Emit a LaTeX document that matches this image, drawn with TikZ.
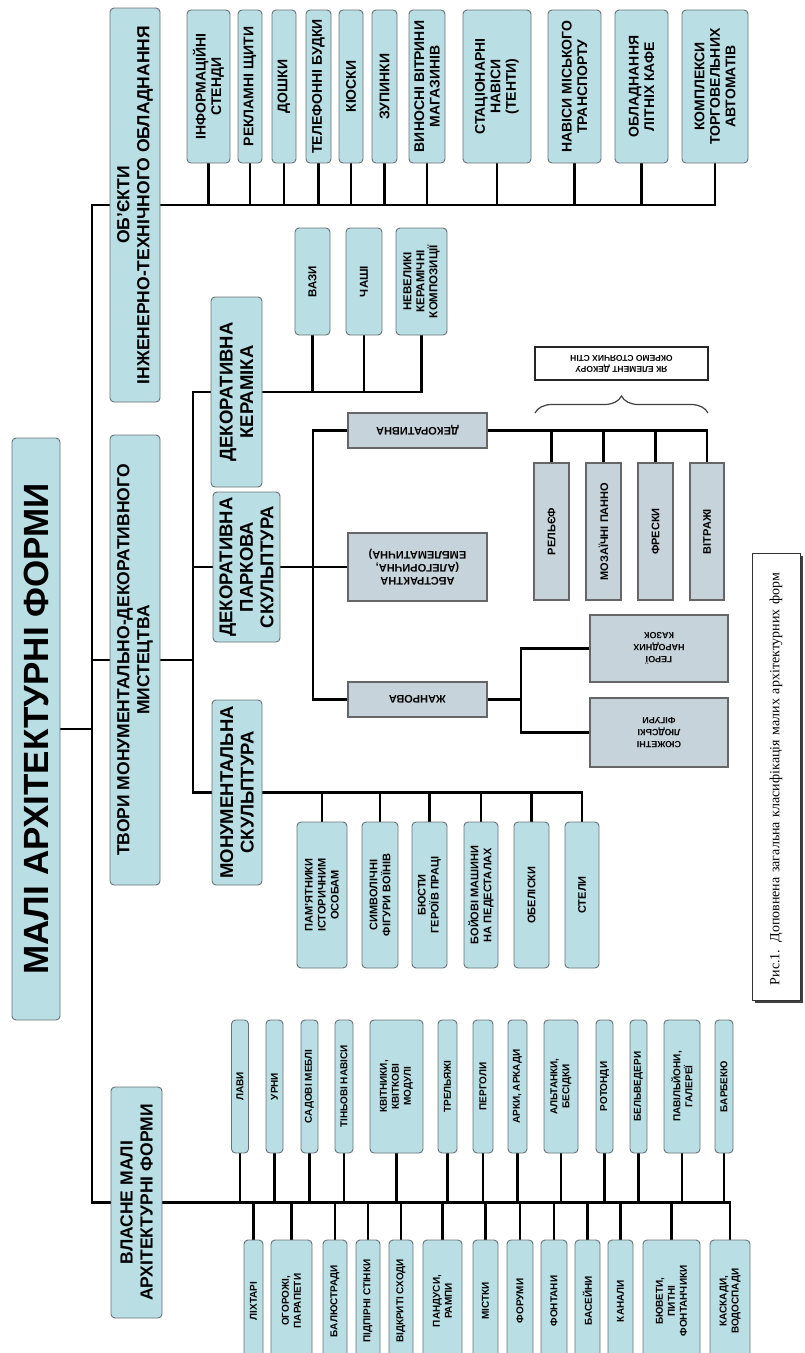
\documentclass[tikz,border=0pt]{standalone}
\usepackage{fontspec}
\setmainfont{Liberation Sans}
\newfontfamily\capfont{Liberation Serif}
\usetikzlibrary{backgrounds,decorations.pathreplacing}
\definecolor{mafcyan}{RGB}{185,222,228}
\definecolor{mafgray}{RGB}{198,211,219}
\definecolor{mafedge}{RGB}{105,115,120}

\begin{document}
\begin{tikzpicture}[x=1pt,y=-1pt,line join=miter,
    cbox/.style={draw=mafedge,fill=mafcyan,rounded corners=4pt,line width=0.9pt,
                 rotate=90,align=center,inner sep=1pt},
    gbox/.style={draw=black!60,fill=mafgray,line width=1.2pt,align=center,inner sep=1pt},
    lvlone/.style={font=\bfseries\fontsize{17.5}{20}\selectfont},
    lvltwo/.style={font=\bfseries\fontsize{18.5}{20.5}\selectfont},
    obx/.style={minimum width=153,font=\bfseries\fontsize{14}{15.5}\selectfont},
    kbx/.style={minimum width=107,font=\bfseries\fontsize{11.5}{13}\selectfont},
    mbx/.style={minimum width=146,font=\bfseries\fontsize{11}{13}\selectfont},
    gtxt/.style={font=\bfseries\fontsize{11}{13}\selectfont},
    vbx/.style={font=\bfseries\fontsize{10}{12}\selectfont},
    wire/.style={line width=2.8pt,line cap=rect},
    curly/.style={decorate,decoration={brace,amplitude=17pt},line width=1.2pt,draw=black!75}]

  \useasboundingbox (0,0) rectangle (804,1353);
  \clip (0,0) rectangle (804,1353);

  % root and first level
  \node[cbox,minimum width=582,minimum height=48,
        font=\bfseries\fontsize{35}{38}\selectfont] (maf) at (36,729) {МАЛІ АРХІТЕКТУРНІ ФОРМИ};
  \node[cbox,lvlone,minimum width=394,minimum height=50] (obj) at (135,205)
       {ОБ'ЄКТИ\\ІНЖЕНЕРНО-ТЕХНІЧНОГО ОБЛАДНАННЯ};
  \node[cbox,lvlone,minimum width=450,minimum height=50] (tvr) at (135,660)
       {ТВОРИ МОНУМЕНТАЛЬНО-ДЕКОРАТИВНОГО\\МИСТЕЦТВА};
  \node[cbox,lvlone,minimum width=231,minimum height=51] (vl) at (136.5,1202.5)
       {ВЛАСНЕ МАЛІ\\АРХІТЕКТУРНІ ФОРМИ};
  \coordinate (bus) at (92,729);

  % engineering objects
  \node[cbox,obx,minimum height=43] (o1)  at (208.5,86.5) {ІНФОРМАЦІЙНІ\\СТЕНДИ};
  \node[cbox,obx,minimum height=24] (o2)  at (250,86.5)   {РЕКЛАМНІ ЩИТИ};
  \node[cbox,obx,minimum height=24] (o3)  at (284,86.5)   {ДОШКИ};
  \node[cbox,obx,minimum height=25] (o4)  at (318.5,86.5) {ТЕЛЕФОННІ БУДКИ};
  \node[cbox,obx,minimum height=24] (o5)  at (351,86.5)   {КІОСКИ};
  \node[cbox,obx,minimum height=25] (o6)  at (384.5,86.5) {ЗУПИНКИ};
  \node[cbox,obx,minimum height=36] (o7)  at (427,86.5)   {ВИНОСНІ ВІТРИНИ\\МАГАЗИНІВ};
  \node[cbox,obx,minimum height=68] (o8)  at (497,86.5)   {СТАЦІОНАРНІ\\НАВІСИ\\(ТЕНТИ)};
  \node[cbox,obx,minimum height=53] (o9)  at (574.5,86.5) {НАВІСИ МІСЬКОГО\\ТРАНСПОРТУ};
  \node[cbox,obx,minimum height=53] (o10) at (641.5,86.5) {ОБЛАДНАННЯ\\ЛІТНІХ КАФЕ};
  \node[cbox,obx,minimum height=66] (o11) at (715,86.5)   {КОМПЛЕКСИ\\ТОРГОВЕЛЬНИХ\\АВТОМАТІВ};

  % second level of the art works
  \node[cbox,lvltwo,minimum width=190,minimum height=51] (ker) at (236.5,392) {ДЕКОРАТИВНА\\КЕРАМІКА};
  \node[cbox,lvltwo,minimum width=150,minimum height=67] (prk) at (246.5,567) {ДЕКОРАТИВНА\\ПАРКОВА\\СКУЛЬПТУРА};
  \node[cbox,lvltwo,minimum width=185,minimum height=50] (mon) at (237,792.5) {МОНУМЕНТАЛЬНА\\СКУЛЬПТУРА};
  \coordinate (tb) at (193,660);

  \node[cbox,kbx,minimum height=35] (k1) at (312.5,281.5) {ВАЗИ};
  \node[cbox,kbx,minimum height=36] (k2) at (364,281.5)   {ЧАШІ};
  \node[cbox,kbx,minimum height=51] (k3) at (421.5,281.5) {НЕВЕЛИКІ\\КЕРАМІЧНІ\\КОМПОЗИЦІЇ};

  \node[cbox,mbx,minimum height=50] (m1) at (322,895)   {ПАМ'ЯТНИКИ\\ІСТОРИЧНИМ\\ОСОБАМ};
  \node[cbox,mbx,minimum height=36] (m2) at (380,895)   {СИМВОЛІЧНІ\\ФІГУРИ ВОЇНІВ};
  \node[cbox,mbx,minimum height=35] (m3) at (429.5,895) {БЮСТИ\\ГЕРОЇВ ПРАЦІ};
  \node[cbox,mbx,minimum height=34] (m4) at (481,895)   {БОЙОВІ МАШИНИ\\НА ПЕДЕСТАЛАХ};
  \node[cbox,mbx,minimum height=35] (m5) at (531.5,895) {ОБЕЛІСКИ};
  \node[cbox,mbx,minimum height=34] (m6) at (582,895)   {СТЕЛИ};

  % park sculpture
  \node[gbox,gtxt,rotate=180,minimum width=139,minimum height=35] (dek) at (417.5,430.5) {ДЕКОРАТИВНА};
  \node[gbox,gtxt,rotate=180,minimum width=139,minimum height=68] (abs) at (417.5,567)
       {АБСТРАКТНА\\(АЛЕГОРИЧНА,\\ЕМБЛЕМАТИЧНА)};
  \node[gbox,gtxt,rotate=180,minimum width=139,minimum height=35] (zhn) at (417.5,699.5) {ЖАНРОВА};
  \coordinate (pb) at (313,567);

  \node[gbox,gtxt,rotate=90,minimum width=137,minimum height=35] (d1) at (551.5,531.5) {РЕЛЬЄФ};
  \node[gbox,gtxt,rotate=90,minimum width=137,minimum height=35] (d2) at (603.5,531.5) {МОЗАЇЧНІ ПАННО};
  \node[gbox,gtxt,rotate=90,minimum width=137,minimum height=35] (d3) at (655.5,531.5) {ФРЕСКИ};
  \node[gbox,gtxt,rotate=90,minimum width=137,minimum height=34] (d4) at (707,531.5)   {ВІТРАЖІ};

  \node[gbox,rotate=180,minimum width=138,minimum height=67,
        font=\bfseries\fontsize{9}{12}\selectfont] (g1) at (659,648.5) {ГЕРОЇ\\НАРОДНИХ\\КАЗОК};
  \node[gbox,rotate=180,minimum width=138,minimum height=69,
        font=\bfseries\fontsize{9}{12}\selectfont] (g2) at (659,732.5) {СЮЖЕТНІ\\ЛЮДСЬКІ\\ФІГУРИ};
  \coordinate (zb) at (521,699.5);

  \node[draw=black!85,fill=white,line width=1.2pt,rotate=180,align=center,
        minimum width=173,minimum height=33,inner sep=1pt,
        font=\bfseries\fontsize{8.5}{11}\selectfont] (note) at (621.5,363.5)
       {ЯК ЕЛЕМЕНТ ДЕКОРУ\\ОКРЕМО СТОЯЧИХ СТІН};
  \draw[curly] (535,413) -- (708,413);

  % small architectural forms proper
  \node[cbox,vbx,minimum width=133,minimum height=17] (t1)  at (240,1086.5)   {ЛАВИ};
  \node[cbox,vbx,minimum width=133,minimum height=17] (t2)  at (274.5,1086.5) {УРНИ};
  \node[cbox,vbx,minimum width=133,minimum height=17] (t3)  at (309.5,1086.5) {САДОВІ МЕБЛІ};
  \node[cbox,vbx,minimum width=133,minimum height=18] (t4)  at (344,1086.5)   {ТІНЬОВІ НАВІСИ};
  \node[cbox,vbx,minimum width=133,minimum height=53] (t5)  at (396.5,1086.5) {КВІТНИКИ,\\КВІТКОВІ\\МОДУЛІ};
  \node[cbox,vbx,minimum width=133,minimum height=19] (t6)  at (447.5,1086.5) {ТРЕЛЬЯЖІ};
  \node[cbox,vbx,minimum width=133,minimum height=20] (t7)  at (483,1086.5)   {ПЕРГОЛИ};
  \node[cbox,vbx,minimum width=133,minimum height=19] (t8)  at (517.5,1086.5) {АРКИ, АРКАДИ};
  \node[cbox,vbx,minimum width=133,minimum height=34] (t9)  at (561,1086.5)   {АЛЬТАНКИ,\\БЕСІДКИ};
  \node[cbox,vbx,minimum width=133,minimum height=17] (t10) at (604.5,1086.5) {РОТОНДИ};
  \node[cbox,vbx,minimum width=133,minimum height=17] (t11) at (638.5,1086.5) {БЕЛЬВЕДЕРИ};
  \node[cbox,vbx,minimum width=133,minimum height=36] (t12) at (682,1086.5)   {ПАВІЛЬЙОНИ,\\ГАЛЕРЕЇ};
  \node[cbox,vbx,minimum width=133,minimum height=18] (t13) at (724,1086.5)   {БАРБЕКЮ};

  \node[cbox,vbx,minimum width=122,minimum height=19] (b1)  at (253.5,1301) {ЛІХТАРІ};
  \node[cbox,vbx,minimum width=122,minimum height=41] (b2)  at (291.5,1301) {ОГОРОЖІ,\\ПАРАПЕТИ};
  \node[cbox,vbx,minimum width=122,minimum height=24] (b3)  at (335,1301)   {БАЛЮСТРАДИ};
  \node[cbox,vbx,minimum width=122,minimum height=24] (b4)  at (368,1301)   {ПІДПІРНІ СТІНКИ};
  \node[cbox,vbx,minimum width=122,minimum height=24] (b5)  at (401,1301)   {ВІДКРИТІ СХОДИ};
  \node[cbox,vbx,minimum width=122,minimum height=39] (b6)  at (442.5,1301) {ПАНДУСИ,\\РАМПИ};
  \node[cbox,vbx,minimum width=122,minimum height=25] (b7)  at (485.5,1301) {МІСТКИ};
  \node[cbox,vbx,minimum width=122,minimum height=26] (b8)  at (520,1301)   {ФОРУМИ};
  \node[cbox,vbx,minimum width=122,minimum height=26] (b9)  at (554,1301)   {ФОНТАНИ};
  \node[cbox,vbx,minimum width=122,minimum height=25] (b10) at (587.5,1301) {БАСЕЙНИ};
  \node[cbox,vbx,minimum width=122,minimum height=25] (b11) at (620.5,1301) {КАНАЛИ};
  \node[cbox,vbx,minimum width=122,minimum height=57] (b12) at (671.5,1301) {БЮВЕТИ,\\ПИТНІ\\ФОНТАНЧИКИ};
  \node[cbox,vbx,minimum width=122,minimum height=40] (b13) at (730,1301)   {КАСКАДИ,\\ВОДОСПАДИ};

  % caption
  \node[draw=black!80,fill=white,line width=0.8pt,rotate=90,minimum width=447,minimum height=48,
        text width=417,align=left,inner xsep=15,inner ysep=0,
        font=\capfont\fontsize{14}{16}\selectfont] (cap) at (776,776.5)
       {Рис.1. Доповнена загальна класифікація малих архітектурних форм};

  \begin{scope}[on background layer]
    \fill[black!75] (754.5,555.5) rectangle (802.5,1002.5);
    \draw[wire] (maf) -- (bus);
    \draw[wire] (bus |- obj) -- (bus |- vl);
    \draw[wire] (bus |- obj) edge (obj) (bus |- tvr) edge (tvr) (bus |- vl) edge (vl);

    \draw[wire] (obj) -- (obj -| o11);
    \draw[wire] (o1) edge (o1 |- obj) (o2) edge (o2 |- obj) (o3) edge (o3 |- obj)
                (o4) edge (o4 |- obj) (o5) edge (o5 |- obj) (o6) edge (o6 |- obj)
                (o7) edge (o7 |- obj) (o8) edge (o8 |- obj) (o9) edge (o9 |- obj)
                (o10) edge (o10 |- obj) (o11) edge (o11 |- obj);

    \draw[wire] (tvr) -- (tb);
    \draw[wire] (tb |- ker) -- (tb |- mon);
    \draw[wire] (tb |- ker) edge (ker) (tb |- prk) edge (prk) (tb |- mon) edge (mon);

    \draw[wire] (ker) -- (ker -| k3);
    \draw[wire] (k1) edge (k1 |- ker) (k2) edge (k2 |- ker) (k3) edge (k3 |- ker);

    \draw[wire] (mon) -- (mon -| m6);
    \draw[wire] (m1) edge (m1 |- mon) (m2) edge (m2 |- mon) (m3) edge (m3 |- mon)
                (m4) edge (m4 |- mon) (m5) edge (m5 |- mon) (m6) edge (m6 |- mon);

    \draw[wire] (prk) -- (abs);
    \draw[wire] (pb |- dek) -- (pb |- zhn);
    \draw[wire] (pb |- dek) edge (dek) (pb |- zhn) edge (zhn);
    \draw[wire] (dek) -- (dek -| d4);
    \draw[wire] (d1) edge (d1 |- dek) (d2) edge (d2 |- dek) (d3) edge (d3 |- dek) (d4) edge (d4 |- dek);
    \draw[wire] (zhn) -- (zb);
    \draw[wire] (zb |- g1) -- (zb |- g2);
    \draw[wire] (zb |- g1) edge (g1) (zb |- g2) edge (g2);

    \draw[wire] (vl) -- (vl -| b13);
    \draw[wire] (t1) edge (t1 |- vl) (t2) edge (t2 |- vl) (t3) edge (t3 |- vl) (t4) edge (t4 |- vl)
                (t5) edge (t5 |- vl) (t6) edge (t6 |- vl) (t7) edge (t7 |- vl) (t8) edge (t8 |- vl)
                (t9) edge (t9 |- vl) (t10) edge (t10 |- vl) (t11) edge (t11 |- vl)
                (t12) edge (t12 |- vl) (t13) edge (t13 |- vl);
    \draw[wire] (b1) edge (b1 |- vl) (b2) edge (b2 |- vl) (b3) edge (b3 |- vl) (b4) edge (b4 |- vl)
                (b5) edge (b5 |- vl) (b6) edge (b6 |- vl) (b7) edge (b7 |- vl) (b8) edge (b8 |- vl)
                (b9) edge (b9 |- vl) (b10) edge (b10 |- vl) (b11) edge (b11 |- vl)
                (b12) edge (b12 |- vl) (b13) edge (b13 |- vl);
  \end{scope}
\end{tikzpicture}
\end{document}
